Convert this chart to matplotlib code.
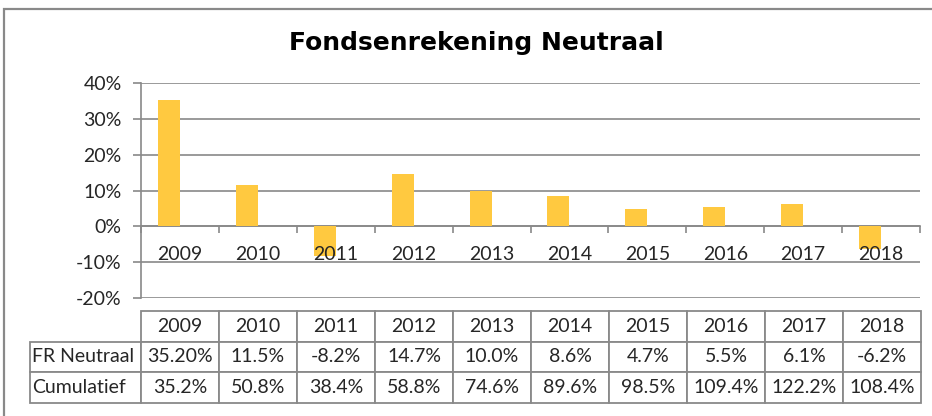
import numpy as np
import matplotlib.pyplot as plt
from matplotlib.patches import Rectangle

years = ['2009', '2010', '2011', '2012', '2013', '2014', '2015', '2016', '2017', '2018']
fr_neutraal = [35.2, 11.5, -8.2, 14.7, 10.0, 8.6, 4.7, 5.5, 6.1, -6.2]
fr_labels = ['35.20%', '11.5%', '-8.2%', '14.7%', '10.0%', '8.6%', '4.7%', '5.5%', '6.1%', '-6.2%']
cumulatief = ['35.2%', '50.8%', '38.4%', '58.8%', '74.6%', '89.6%', '98.5%', '109.4%', '122.2%', '108.4%']
yticks = [-20, -10, 0, 10, 20, 30, 40]

plt.rcParams['font.family'] = ['Lato', 'DejaVu Sans']
grey = '#898989'
txt = '#262626'
fs = 14

W, H = 932, 416
fig = plt.figure(figsize=(W / 100, H / 100), dpi=100)

# outer chart frame (only left and top visible in the crop)
fig.patches.append(Rectangle((4 / W, -0.2), 1.2, 1.2 - 9 / H,
                             transform=fig.transFigure, fill=False,
                             edgecolor=grey, linewidth=1.6))

ax = fig.add_axes([141 / W, (H - 298) / H, 779 / W, 215 / H])
x = np.arange(len(years))
vals = np.array(fr_neutraal) / 100
ax.bar(x - 0.141, vals, width=0.282, color='#FFC940', zorder=3)

ax.set_xlim(-0.5, len(years) - 0.5)
ax.set_ylim(-0.2, 0.4)
ax.set_yticks(np.array(yticks) / 100)
ax.set_yticklabels(['%d%%' % v for v in yticks], fontsize=fs, color=txt)
ax.grid(axis='y', color=grey, linewidth=1.2, zorder=0)
ax.tick_params(axis='y', length=6, width=1.2, color=grey, pad=8)

for s in ['top', 'right']:
    ax.spines[s].set_visible(False)
ax.spines['left'].set_color(grey)
ax.spines['left'].set_linewidth(1.2)
ax.spines['bottom'].set_position(('data', 0))
ax.spines['bottom'].set_color(grey)
ax.spines['bottom'].set_linewidth(1.2)

# ticks at category boundaries, labels at centres (drawn above the bars)
ax.set_xticks(np.arange(len(years) + 1) - 0.5)
ax.set_xticklabels([])
ax.tick_params(axis='x', which='major', length=5, width=1.2, color=grey, direction='out')
for i, yr in enumerate(years):
    ax.annotate(yr, (i, 0), xytext=(0, -20.5), textcoords='offset points',
                ha='center', va='center', fontsize=fs, color=txt, zorder=5)

fig.text(476 / W, 1 - 43 / H, 'Fondsenrekening Neutraal', ha='center', va='center',
         fontsize=18, fontweight='bold', family='DejaVu Sans', color='black')

# data table
cells = [[''] + years, ['FR Neutraal'] + fr_labels, ['Cumulatief'] + cumulatief]
x0 = (30 - 141) / 779
tbl = ax.table(cellText=cells, colWidths=[111] + [78] * len(years),
               cellLoc='center', bbox=[x0, (298 - 403) / 215, (921 - 30) / 779, 92 / 215])
tbl.auto_set_font_size(False)
tbl.set_fontsize(fs)
for (r, c), cell in tbl.get_celld().items():
    cell.set_edgecolor(grey)
    cell.set_linewidth(1.3)
    cell.get_text().set_color(txt)
    if c == 0:
        cell.get_text().set_ha('left')
        cell._loc = 'left'
        cell.PAD = 0.02
    if r == 0 and c == 0:
        cell.set_linewidth(0)

fig.savefig('out.png', dpi=100)
